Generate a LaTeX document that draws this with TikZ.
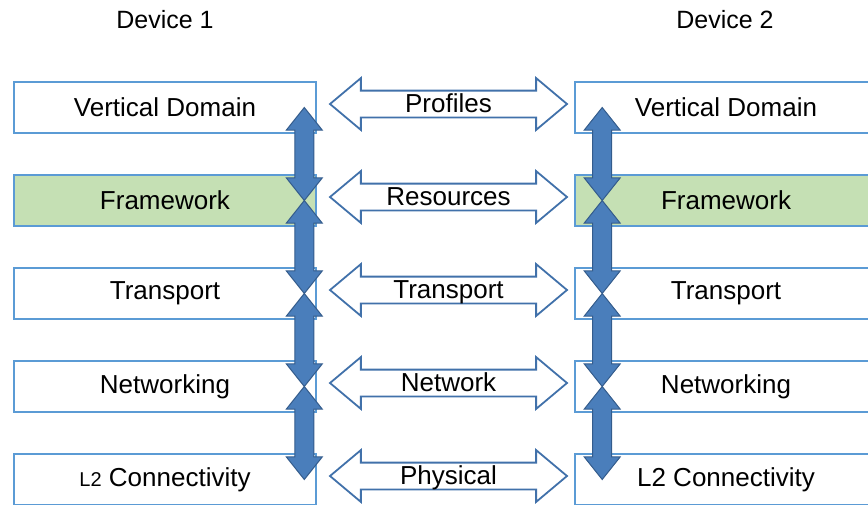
\documentclass[tikz,border=0pt]{standalone}
\usepackage{fontspec}
\setmainfont{Liberation Sans}
\usetikzlibrary{shapes.arrows,calc}
\definecolor{boxline}{RGB}{91,155,213}
\definecolor{fwgreen}{RGB}{197,224,180}
\definecolor{stackfill}{RGB}{74,126,187}
\definecolor{stackline}{RGB}{52,92,140}
\definecolor{peerline}{RGB}{65,113,170}
\tikzset{
  layer/.style={draw=boxline, line width=1.6pt, minimum width=302pt, minimum height=51pt,
    inner sep=0pt, font=\fontsize{26}{30}\selectfont},
  peer/.style={double arrow, draw=peerline, fill=white, line width=1.8pt,
    minimum height=237pt, minimum width=50pt, double arrow head extend=12.5pt,
    double arrow tip angle=80, inner xsep=0pt, inner ysep=0pt,
    text height=21pt, text depth=4pt, font=\fontsize{26}{30}\selectfont},
  stack/.style={double arrow, rotate=90, draw=stackline, fill=stackfill, line width=1pt,
    minimum height=93pt, minimum width=35pt, double arrow head extend=8.5pt,
    double arrow tip angle=77, inner xsep=0pt, inner ysep=9pt},
  devtitle/.style={font=\fontsize{25}{30}\selectfont}
}
\begin{document}
\begin{tikzpicture}[x=1pt,y=-1pt]
\useasboundingbox (0,0) rectangle (868,504);
\node[devtitle] (dev1) at (165,20) {Device 1};
\node[devtitle] (dev2) at (725,20) {Device 2};
% device 1
\node[layer] (a1) at (165,107.5) {Vertical Domain};
\node[layer,fill=fwgreen] (a2) at (165,200.5) {Framework};
\node[layer] (a3) at (165,293.5) {Transport};
\node[layer] (a4) at (165,386.5) {Networking};
\node[layer] (a5) at (165,479.5) {{\fontsize{20}{24}\selectfont L2} Connectivity};
% device 2
\node[layer] (b1) at (726,107.5) {Vertical Domain};
\node[layer,fill=fwgreen] (b2) at (726,200.5) {Framework};
\node[layer] (b3) at (726,293.5) {Transport};
\node[layer] (b4) at (726,386.5) {Networking};
\node[layer] (b5) at (726,479.5) {L2 Connectivity};
% peer to peer
\foreach \i/\txt in {1/Profiles,2/Resources,3/Transport,4/Network,5/Physical}
  \node[peer] (p\i) at ($(a\i.east)!0.5!(b\i.west)+(3,-3.5)$) {\txt};
% up and down the stack
\foreach \i [evaluate=\i as \j using int(\i+1)] in {1,...,4}{
  \node[stack] (s\i) at ($(a\i.east)!0.5!(a\j.east)+(-12.5,0)$) {};
  \node[stack] (t\i) at ($(b\i.west)!0.5!(b\j.west)+(28,0)$) {};
}
\end{tikzpicture}
\end{document}
